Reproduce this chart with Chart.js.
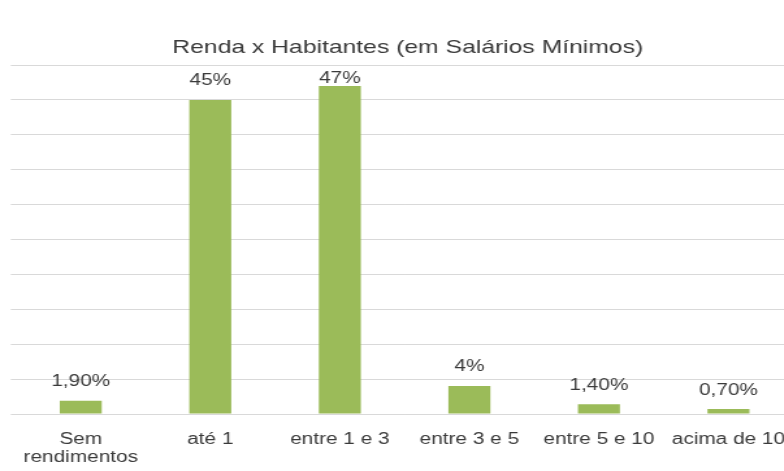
<!DOCTYPE html>
<html>
<head>
<meta charset="utf-8">
<script src="https://cdn.jsdelivr.net/npm/chart.js@4/dist/chart.umd.min.js"></script>
<style>
  html, body { margin: 0; padding: 0; background: #ffffff; overflow: hidden; }
  #wrap { width: 784px; height: 471px; overflow: hidden; position: relative; }
  /* the chart is drawn on a narrower canvas and widened horizontally */
  #chart { position: absolute; left: 0; top: 0; transform: scaleX(1.3); transform-origin: 0 0; }
</style>
</head>
<body>
<div id="wrap">
  <canvas id="chart" width="620" height="471"></canvas>
</div>
<script>
// Faixas de renda (em salários mínimos)
const categorias = [
  ['Sem', 'rendimentos'],
  'até 1',
  'entre 1 e 3',
  'entre 3 e 5',
  'entre 5 e 10',
  'acima de 10'
];

// Percentual de habitantes em cada faixa
const percentuais = [1.9, 45, 47, 4, 1.4, 0.7];

const titulo = 'Renda x Habitantes (em Salários Mínimos)';

const FONTE = '"Liberation Sans", Arial, sans-serif';
const COR_TEXTO = '#3a3a3a';

function formatarPercentual(v) {
  return Number.isInteger(v) ? v + '%' : v.toFixed(2).replace('.', ',') + '%';
}

// Rótulos de valor acima de cada barra
const rotulosValor = {
  id: 'rotulosValor',
  afterDatasetsDraw(chart) {
    const { ctx, chartArea } = chart;
    const meta = chart.getDatasetMeta(0);
    ctx.save();
    ctx.font = '16px ' + FONTE;
    ctx.fillStyle = COR_TEXTO;
    ctx.textAlign = 'center';
    ctx.textBaseline = 'middle';
    meta.data.forEach((bar, i) => {
      const v = chart.data.datasets[0].data[i];
      const y = Math.max(bar.y - 19, chartArea.top + 14);
      ctx.fillText(formatarPercentual(v), bar.x, y);
    });
    ctx.restore();
  }
};

new Chart(document.getElementById('chart'), {
  type: 'bar',
  data: {
    labels: categorias,
    datasets: [{
      data: percentuais,
      backgroundColor: '#9bbb59',
      borderWidth: 0,
      categoryPercentage: 1,
      barPercentage: 0.324
    }]
  },
  options: {
    responsive: false,
    animation: false,
    devicePixelRatio: 1,
    layout: { padding: { left: 8.3, right: 1, top: 0, bottom: 0 } },
    plugins: {
      legend: { display: false },
      tooltip: { enabled: false },
      title: {
        display: true,
        text: titulo,
        color: COR_TEXTO,
        font: { family: FONTE, size: 19, weight: 'normal', lineHeight: 1.2 },
        padding: { top: 36.4, bottom: 5.8 }
      }
    },
    scales: {
      x: {
        grid: { display: false, drawTicks: false },
        border: { display: false },
        afterFit(scale) { scale.height = 57; },
        ticks: {
          color: COR_TEXTO,
          font: { family: FONTE, size: 16, lineHeight: 1.15 },
          padding: 16,
          maxRotation: 0,
          autoSkip: false
        }
      },
      y: {
        min: 0,
        max: 50,
        grid: { color: '#d9d9d9', lineWidth: 1, drawTicks: true, tickLength: 4 },
        border: { display: false },
        ticks: { display: false, stepSize: 5 }
      }
    }
  },
  plugins: [rotulosValor]
});
</script>
</body>
</html>
